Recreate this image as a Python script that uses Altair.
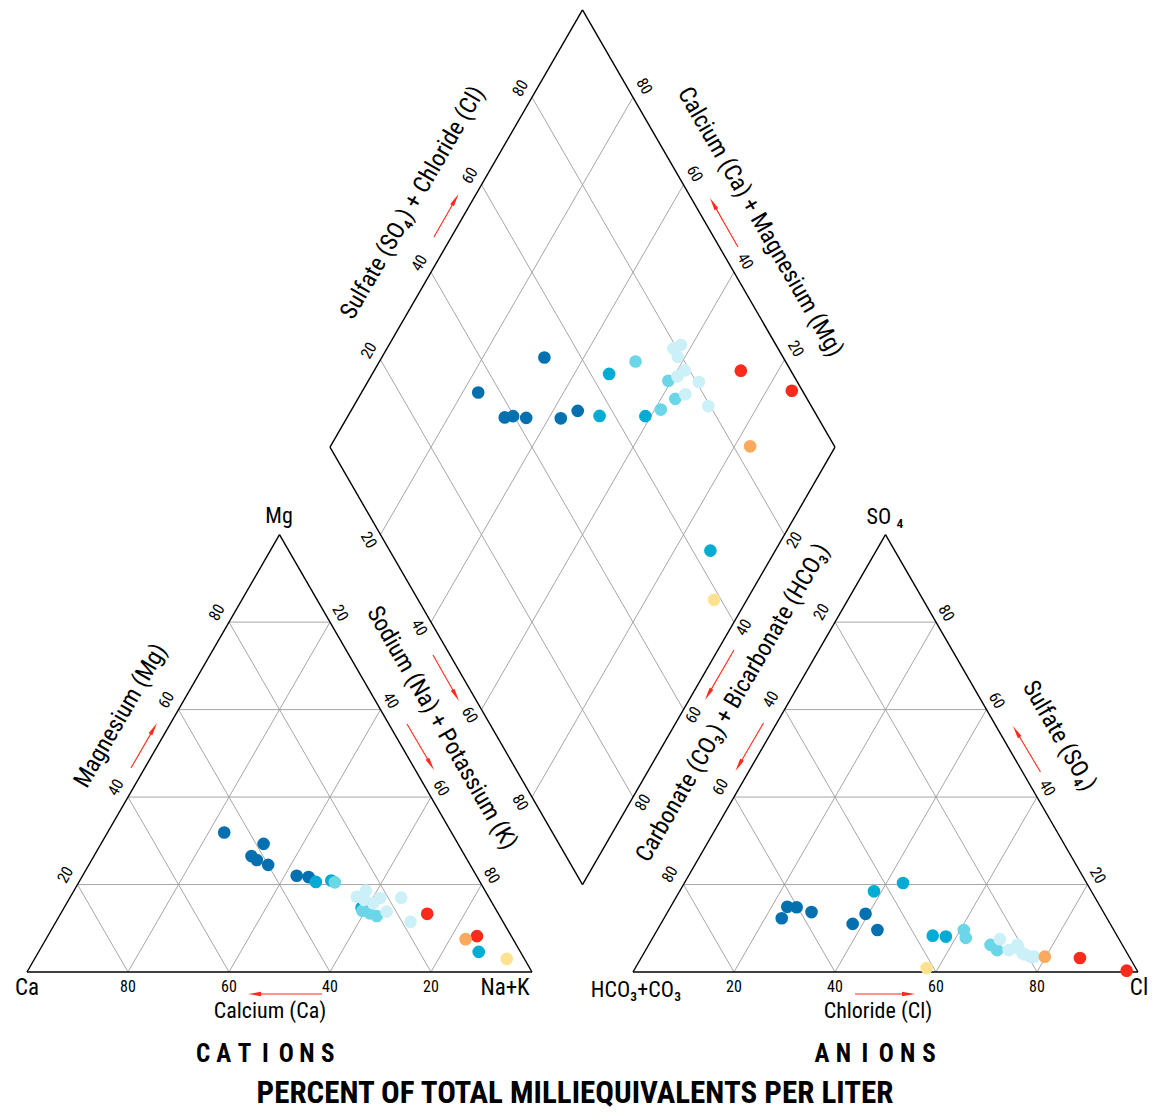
import altair as alt
import numpy as np
import pandas as pd

# ---------------- data: percent of total milliequivalents per liter ----------------
groups = ["d"] * 7 + ["m"] * 4 + ["l"] * 4 + ["v"] * 8 + ["r"] * 2 + ["o"] + ["y"]
calcium = [45.0, 38.5, 42.3, 41.7, 40.0, 35.6, 33.4,
           32.5, 29.3, 26.4, 8.25,
           28.8, 25.4, 24.35, 26.6,
           26.1, 23.6, 25.0, 21.65, 23.6, 17.4, 21.9, 18.3,
           14.1, 6.8, 9.4, 3.5]
magnesium = [31.9, 29.3, 26.5, 25.6, 24.5, 22.0, 21.7,
             20.6, 20.9, 14.7, 4.6,
             20.5, 13.4, 12.8, 14.0,
             17.2, 18.6, 16.5, 16.9, 15.7, 17.0, 13.8, 11.5,
             13.3, 8.2, 7.5, 3.0]
sulfate = [12.3, 13.3, 14.9, 14.8, 13.7, 11.0, 9.6,
           20.35, 18.45, 8.1, 8.3,
           9.6, 7.8, 6.2, 5.0,
           4.35, 3.5, 6.2, 5.5, 5.0, 3.5, 7.5, 4.0,
           3.2, 0.3, 3.5, 0.9]
chloride = [23.3, 39.4, 23.1, 25.0, 28.5, 38.0, 43.6,
            43.3, 38.5, 57.9, 55.2,
            60.7, 62.0, 67.7, 69.6,
            74.9, 77.7, 73.0, 73.5, 71.9, 77.0, 68.9, 75.6,
            86.9, 97.6, 79.8, 57.7]
group_domain = ["d", "m", "l", "v", "r", "o", "y"]
group_colors = ["#0570b0", "#00acd4", "#6bd6e8", "#ccf0f7", "#fa2a1c", "#fba95c", "#fee28f"]
tick_values = [20, 40, 60, 80]

# ---------------- geometry (side of each triangle = 100 units) ----------------
K = 5.05                      # pixels per unit
W, H = 1141, 1104
SQ = np.sqrt(3) / 2
X0 = -19 / K
Y1 = 964 / K
xdom = [X0, X0 + W / K]
ydom = [Y1 - H / K, Y1]

A, B, C = (0.0, 0.0), (100.0, 0.0), (50.0, 100 * SQ)            # Ca, Na+K, Mg
A2, B2, C2 = (120.0, 0.0), (220.0, 0.0), (170.0, 100 * SQ)       # HCO3, Cl, SO4
L, BM, R, T = (60.0, 120 * SQ), (110.0, 20 * SQ), (160.0, 120 * SQ), (110.0, 220 * SQ)


def lerp(p, q, t):
    return (p[0] + (q[0] - p[0]) * t, p[1] + (q[1] - p[1]) * t)


def P(px, py):
    """page pixel -> plot units (annotation placement)"""
    return ((px - 27) / K, (972 - py) / K)


# ---------------- sample positions ----------------
rows = []
for i, g in enumerate(groups):
    ca, mg, so4, cl = calcium[i], magnesium[i], sulfate[i], chloride[i]
    nak = 100 - ca - mg
    s = so4 + cl
    rows.append(dict(x=nak + mg / 2, y=mg * SQ, group=g, o=i))
    rows.append(dict(x=120 + cl + so4 / 2, y=so4 * SQ, group=g, o=i))
    rows.append(dict(x=60 + 0.5 * (nak + s), y=120 * SQ + SQ * (s - nak), group=g, o=i))
pts = pd.DataFrame(rows)

# ---------------- grid and outlines ----------------
grid, outline = [], []


def seg(lst, p, q):
    lst.append(dict(x=p[0], y=p[1], x2=q[0], y2=q[1]))


for v in tick_values:
    t = v / 100
    for a, b, c in [(A, B, C), (A2, B2, C2)]:
        seg(grid, lerp(a, c, t), lerp(b, c, t))
        seg(grid, lerp(a, b, t), lerp(c, b, t))
        seg(grid, lerp(b, a, t), lerp(c, a, t))
    seg(grid, lerp(L, BM, t), lerp(T, R, t))
    seg(grid, lerp(L, T, t), lerp(BM, R, t))
for poly in [[A, B, C], [A2, B2, C2], [L, BM, R, T]]:
    for j in range(len(poly)):
        seg(outline, poly[j], poly[(j + 1) % len(poly)])
grid = pd.DataFrame(grid)
outline = pd.DataFrame(outline)

# ---------------- tick labels ----------------
tick_rows = []
edges = [
    (B, A, (0, 15), 0), (A, C, (-12, -9.5), 300), (C, B, (10, -9), 60),
    (A2, B2, (0, 15), 0), (C2, A2, (-13.5, -10), 300), (B2, C2, (10, -9), 60),
    (L, T, (-11.5, -9), 300), (R, T, (11, -11), 60),
    (L, BM, (-12, 5.5), 60), (R, BM, (10, 5.5), 300),
]
for p0, p1, (dx, dy), ang in edges:
    for v in tick_values:
        q = lerp(p0, p1, v / 100)
        tick_rows.append(dict(x=q[0] + dx / K, y=q[1] - dy / K, text=str(v), angle=ang))
ticks = pd.DataFrame(tick_rows)

# ---------------- titles ----------------
title_specs = [
    ("Magnesium (Mg)", 121, 716, 300, 24),
    ("Calcium (Ca)", 270, 1011, 0, 22),
    ("Sodium (Na) + Potassium (K)", 441.5, 728, 60, 24),
    ("Sulfate (SO\u2084) + Chloride (Cl)", 413, 203, 300, 24),
    ("Calcium (Ca) + Magnesium (Mg)", 760, 222, 60, 24),
    ("Carbonate (CO\u2083) + Bicarbonate (HCO\u2083)", 733, 703, 300, 24),
    ("Sulfate (SO\u2084)", 1059, 736, 60, 24),
    ("Chloride (Cl)", 878, 1011, 0, 22),
    ("Ca", 27, 988, 0, 23),
    ("Na+K", 505, 988, 0, 23),
    ("Mg", 279, 516, 0, 22),
    ("SO \u2084", 885, 517, 0, 22),
    ("HCO\u2083+CO\u2083", 636, 990, 0, 22),
    ("Cl", 1139, 988, 0, 23),
]
titles = pd.DataFrame([dict(x=P(px, py)[0], y=P(px, py)[1], text=t, angle=a, size=s)
                       for t, px, py, a, s in title_specs])

bold_rows = []
for word, x_first, step in [("CATIONS", 203, 20.8), ("ANIONS", 822, 21.4)]:
    for j, ch in enumerate(word):
        px_, py_ = P(x_first + j * step, 1054)
        bold_rows.append(dict(x=px_, y=py_, text=ch, size=25))
px_, py_ = P(575, 1094)
bold_rows.append(dict(x=px_, y=py_, text="PERCENT OF TOTAL MILLIEQUIVALENTS PER LITER", size=31))
bold = pd.DataFrame(bold_rows)

# ---------------- red direction arrows ----------------
arrow_specs = [
    ((131, 768), (157, 723)),
    ((322, 994), (248, 994)),
    ((407, 724), (434, 770)),
    ((433, 655), (459, 701)),
    ((434, 237), (458.5, 194)),
    ((738, 247), (710, 198)),
    ((734, 650), (705, 700)),
    ((763.5, 723), (735.5, 771)),
    ((1040.5, 772), (1013, 726)),
    ((855, 994), (915, 994)),
]
arr_lines, arr_heads = [], []
for (sx, sy), (ex, ey) in arrow_specs:
    dx, dy = ex - sx, ey - sy
    n = np.hypot(dx, dy)
    ux, uy = dx / n, dy / n
    cx, cy = ex - 6.5 * ux, ey - 6.5 * uy
    p0, p1 = P(sx, sy), P(cx, cy)
    arr_lines.append(dict(x=p0[0], y=p0[1], x2=p1[0], y2=p1[1]))
    ang = np.degrees(np.arctan2(ux, -uy)) % 360
    arr_heads.append(dict(x=p1[0], y=p1[1], angle=ang))
arr_lines = pd.DataFrame(arr_lines)
arr_heads = pd.DataFrame(arr_heads)

# ---------------- chart ----------------
xs = alt.Scale(domain=xdom, nice=False, zero=False)
ys = alt.Scale(domain=ydom, nice=False, zero=False)
X = lambda f="x": alt.X(f"{f}:Q", scale=xs, axis=None)
Y = lambda f="y": alt.Y(f"{f}:Q", scale=ys, axis=None)
FONT = "Liberation Sans Narrow, Roboto Condensed, DejaVu Sans Condensed, Arial Narrow, sans-serif"

grid_layer = alt.Chart(grid).mark_rule(color="#9c9c9c", strokeWidth=0.9).encode(
    x=X(), y=Y(), x2="x2:Q", y2="y2:Q")
outline_layer = alt.Chart(outline).mark_rule(color="#000000", strokeWidth=1.4).encode(
    x=X(), y=Y(), x2="x2:Q", y2="y2:Q")
arrow_line_layer = alt.Chart(arr_lines).mark_rule(color="#ff2a1a", strokeWidth=1.1).encode(
    x=X(), y=Y(), x2="x2:Q", y2="y2:Q")
arrow_head_layer = alt.Chart(arr_heads).mark_point(
    shape="M0,-1L0.33,1L-0.33,1Z", filled=True, color="#ff2a1a", opacity=1, size=169
).encode(x=X(), y=Y(), angle=alt.Angle("angle:Q", scale=None))
point_layer = alt.Chart(pts).mark_circle(size=160, opacity=1).encode(
    x=X(), y=Y(),
    color=alt.Color("group:N", scale=alt.Scale(domain=group_domain, range=group_colors), legend=None),
    order=alt.Order("o:Q"),
)
tick_layer = alt.Chart(ticks).mark_text(font=FONT, fontSize=16, color="#000000",
                                        align="center", baseline="middle").encode(
    x=X(), y=Y(), text="text:N", angle=alt.Angle("angle:Q", scale=None))
title_layer = alt.Chart(titles).mark_text(font=FONT, color="#000000",
                                          align="center", baseline="middle").encode(
    x=X(), y=Y(), text="text:N", angle=alt.Angle("angle:Q", scale=None),
    size=alt.Size("size:Q", scale=None))
bold_layer = alt.Chart(bold).mark_text(font=FONT, fontWeight="bold", color="#000000",
                                       align="center", baseline="middle").encode(
    x=X(), y=Y(), text="text:N", size=alt.Size("size:Q", scale=None))

chart = alt.layer(
    grid_layer, outline_layer, arrow_line_layer, arrow_head_layer,
    point_layer, tick_layer, title_layer, bold_layer
).properties(
    width=W, height=H, padding=0, autosize=alt.AutoSizeParams(type="none"),
    background="#ffffff",
).configure_view(stroke=None)

chart.save("out.html", embed_options={"renderer": "svg", "actions": False})
